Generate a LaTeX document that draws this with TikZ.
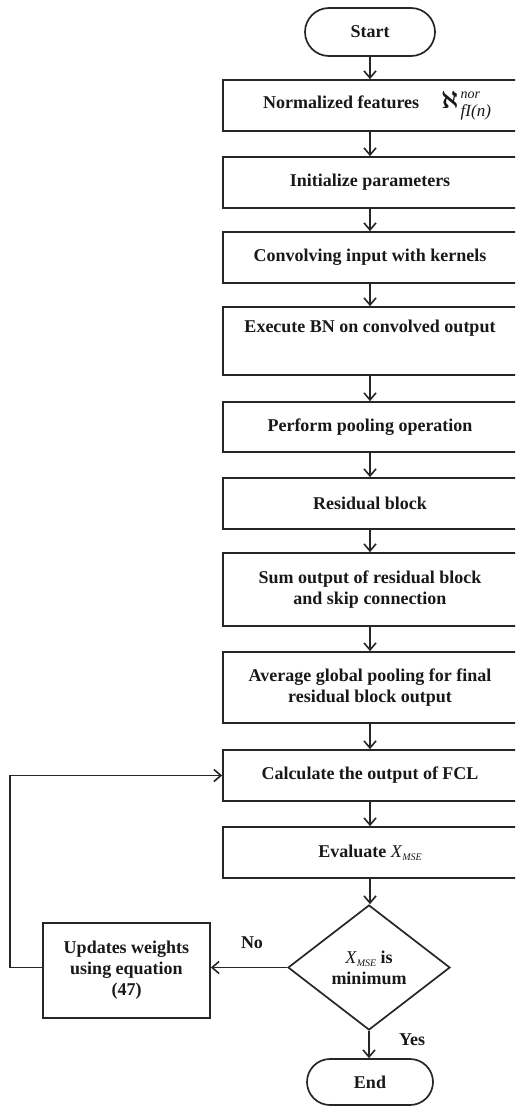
\documentclass[tikz,border=0pt]{standalone}
\usepackage{fontspec}
\setmainfont{Liberation Serif}
\usepackage{amsmath,amssymb}
\usetikzlibrary{arrows.meta,shapes.geometric,shapes.misc}
\newcommand{\xmse}{{\mdseries\itshape X\kern0.5pt\raisebox{-3pt}{\fontsize{10}{10}\selectfont MSE}}}
\newcommand{\alephsym}{{\fontsize{26}{26}\selectfont$\boldsymbol{\aleph}$}\kern2pt\raisebox{10pt}{\rlap{\mdseries\itshape\fontsize{14}{14}\selectfont nor}}\raisebox{-8pt}{\mdseries\itshape\fontsize{17}{17}\selectfont fI(n)}}
\begin{document}
\begin{tikzpicture}[x=1pt,y=-1pt,
  font=\fontsize{18}{21}\selectfont\bfseries,
  every node/.style={text=black!90},
  box/.style={draw=black!85, line width=1.7pt, rectangle, minimum width=294pt, inner sep=0pt, align=center},
  term/.style={draw=black!85, line width=1.7pt, rounded rectangle, inner sep=0pt},
  dec/.style={draw=black!85, line width=1.7pt, diamond, inner sep=0pt, minimum width=162pt, minimum height=125pt, align=center},
  arr/.style={draw=black!85, line width=1.6pt, -{Straight Barb[length=7pt,width=12pt]}},
  lbl/.style={inner sep=0pt}]
\useasboundingbox (0,0) rectangle (515,1108);
\clip (0,0) rectangle (515,1108);
\fill[white] (0,0) rectangle (515,1108);
\node[term, minimum width=130pt, minimum height=48pt] (start) at (370,32) {Start};
\node[box, minimum height=51pt] (b1) at (370,105.5) {\hspace*{14pt}Normalized features\quad\kern4pt\alephsym};
\node[box, minimum height=51pt] (b2) at (370,182.5) {Initialize parameters};
\node[box, minimum height=51pt] (b3) at (370,257.5) {Convolving input with kernels};
\node[box, minimum height=68pt] (b4) at (370,341) {Execute BN on convolved output\\[2pt]\strut};
\node[box, minimum height=50pt] (b5) at (370,427) {Perform pooling operation};
\node[box, minimum height=51pt] (b6) at (370,503.5) {Residual block};
\node[box, minimum height=73pt] (b7) at (370,589.5) {Sum output of residual block\\and skip connection};
\node[box, minimum height=71pt] (b8) at (370,687.5) {Average global pooling for final\\residual block output};
\node[box, minimum height=51pt] (b9) at (370,775.5) {Calculate the output of FCL};
\node[box, minimum height=51pt] (b10) at (370,852.5) {Evaluate \xmse};
\node[dec] (dia) at (369,967.5) {\xmse\ is\\minimum};
\node[draw=black!85, line width=1.7pt, rectangle, minimum width=167pt, minimum height=95pt, inner sep=0pt, align=center] (upd) at (126.5,970.5) {Updates weights\\using equation\\(47)};
\node[term, minimum width=126pt, minimum height=46pt] (end) at (370,1082) {End};
\node[lbl] (no) at (252,943) {No};
\node[lbl] (yes) at (412,1040) {Yes};
\draw[arr] (start) -- (b1);
\draw[arr] (b1) -- (b2);
\draw[arr] (b2) -- (b3);
\draw[arr] (b3) -- (b4);
\draw[arr] (b4) -- (b5);
\draw[arr] (b5) -- (b6);
\draw[arr] (b6) -- (b7);
\draw[arr] (b7) -- (b8);
\draw[arr] (b8) -- (b9);
\draw[arr] (b9) -- (b10);
\draw[arr] (b10.south) -- (b10.south |- dia.north);
\draw[arr] (dia.south) -- (dia.south |- end.north);
\draw[arr] (dia.west) -- (dia.west -| upd.east);
\draw[arr] (upd.west |- dia.west) -- (10,967.5) |- (b9.west);
\end{tikzpicture}
\end{document}
